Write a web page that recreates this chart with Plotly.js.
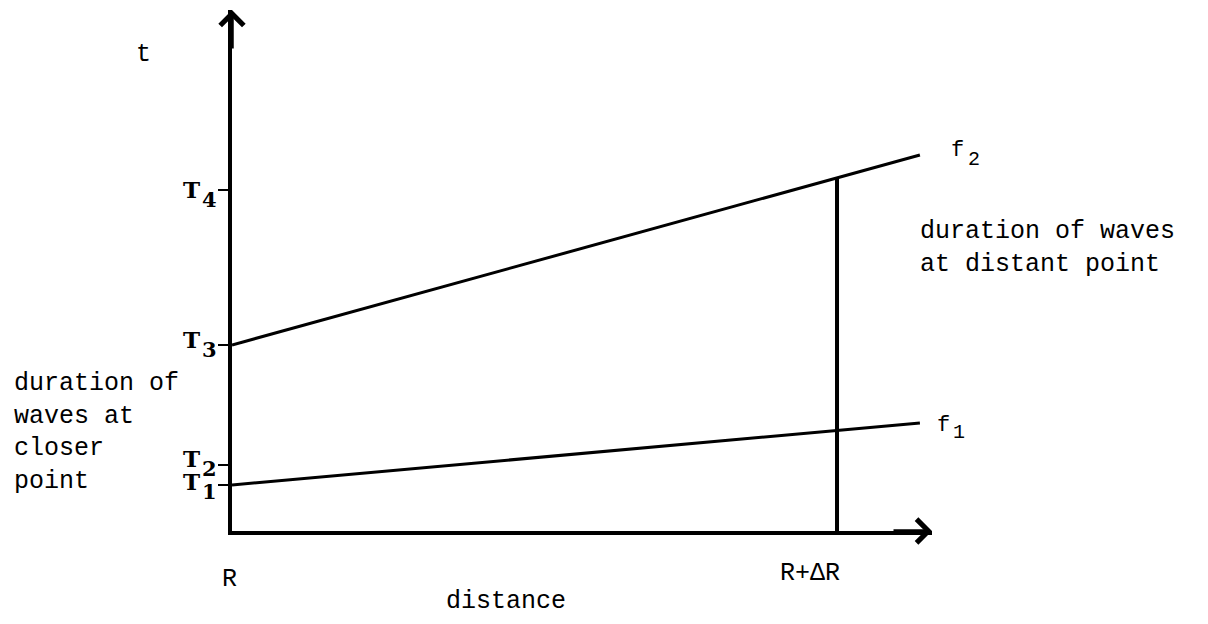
<!DOCTYPE html>
<html>
<head>
<meta charset="utf-8">
<script src="https://cdn.plot.ly/plotly-3.0.1.min.js"></script>
<style>html,body{margin:0;padding:0;background:#fff;}#chart{width:1208px;height:624px;}</style>
</head>
<body>
<div id="chart"></div>
<script>
// ---- data ----
const distance = [0, 1.137];            // R ... end of drawn lines (units of ΔR)
const f1Time = [0.46, 1.08];
const f2Time = [1.86, 3.76];
const markerDistance = [1, 1];          // R+ΔR
const markerTime = [0, 3.53];
const tTickVals = [0.46, 0.66, 1.86, 3.41];
const tTickNames = ["1", "2", "3", "4"];
const xTickVals = [0, 1];
const xTickText = ["R", "R+ΔR"];
const xMax = 1.157, yMax = 5.21;

const mono = "Liberation Mono";
const serif = "DejaVu Serif";
// pixel -> paper coordinates (plot area 232..932 x 10..531)
const PX = px => (px - 232) / 700;
const PY = py => (531 - py) / 521;

const line = {color: "#000", width: 3};
const traces = [
  {x: distance, y: f1Time, mode: "lines", line: line, hoverinfo: "skip"},
  {x: distance, y: f2Time, mode: "lines", line: line, hoverinfo: "skip"},
  {x: markerDistance, y: markerTime, mode: "lines", line: {color: "#000", width: 4}, hoverinfo: "skip"}
];

const ann = [];
function txt(text, px, py, size, xanchor, family) {
  ann.push({text: text, x: PX(px), y: PY(py), xref: "paper", yref: "paper", showarrow: false,
    xanchor: xanchor || "left", yanchor: "middle", align: "left",
    font: {family: family || mono, size: size || 25, color: "#000"}});
}
// axis arrows
ann.push({x: 0, y: yMax, xref: "x", yref: "y", ax: 0, ay: 40, text: "", showarrow: true,
  arrowhead: 4, arrowwidth: 3.5, arrowsize: 1.3, arrowcolor: "#000", standoff: 0});
ann.push({x: xMax, y: 0, xref: "x", yref: "y", ax: -40, ay: 0, text: "", showarrow: true,
  arrowhead: 4, arrowwidth: 3.5, arrowsize: 1.3, arrowcolor: "#000", standoff: 0});

// y tick labels (T1..T4): "T" plus a lowered digit
const tLift = [3, 6, 5, 0];
tTickVals.forEach((v, i) => {
  ann.push({text: "<b>T</b>", x: PX(202), xref: "paper", y: v, yref: "y", showarrow: false,
    xanchor: "right", yanchor: "middle", yshift: tLift[i] + 1,
    font: {family: serif, size: 23, color: "#000"}});
  ann.push({text: "<b>" + tTickNames[i] + "</b>", x: PX(200), xref: "paper", y: v, yref: "y", showarrow: false,
    xanchor: "left", yanchor: "middle", yshift: tLift[i] - 9,
    font: {family: serif, size: 21, color: "#000"}});
});
// x tick labels
ann.push({text: xTickText[0], x: xTickVals[0], xref: "x", y: PY(579), yref: "paper", showarrow: false,
  xanchor: "center", yanchor: "middle", xshift: -3, font: {family: mono, size: 25, color: "#000"}});
ann.push({text: xTickText[1], x: xTickVals[1], xref: "x", y: PY(573), yref: "paper", showarrow: false,
  xanchor: "center", yanchor: "middle", xshift: -27, font: {family: mono, size: 25, color: "#000"}});

txt("distance", 506, 601, 25, "center");
txt("t", 143, 55, 25, "center");
txt("duration of<br>waves at<br>closer<br>point", 12, 432);
txt("duration of waves<br>at distant point", 918, 248);
// line labels f1, f2
txt("f", 957, 150, 22, "center");
txt("2", 974, 159, 20, "center");
txt("f", 943, 425, 22, "center");
txt("1", 959, 432, 20, "center");

const layout = {
  width: 1208, height: 624,
  margin: {l: 232, r: 276, t: 10, b: 93, pad: 0},
  paper_bgcolor: "#fff", plot_bgcolor: "#fff",
  showlegend: false,
  xaxis: {range: [0, xMax], showgrid: false, zeroline: false, showline: true, linewidth: 4,
    linecolor: "#000", showticklabels: false, ticks: "", fixedrange: true},
  yaxis: {range: [0, yMax], showgrid: false, zeroline: false, showline: true, linewidth: 4,
    linecolor: "#000", showticklabels: false, ticks: "outside", ticklen: 10, tickwidth: 2,
    tickcolor: "#000", tickvals: tTickVals, fixedrange: true},
  annotations: ann
};
Plotly.newPlot("chart", traces, layout, {staticPlot: true, displayModeBar: false});
</script>
</body>
</html>
